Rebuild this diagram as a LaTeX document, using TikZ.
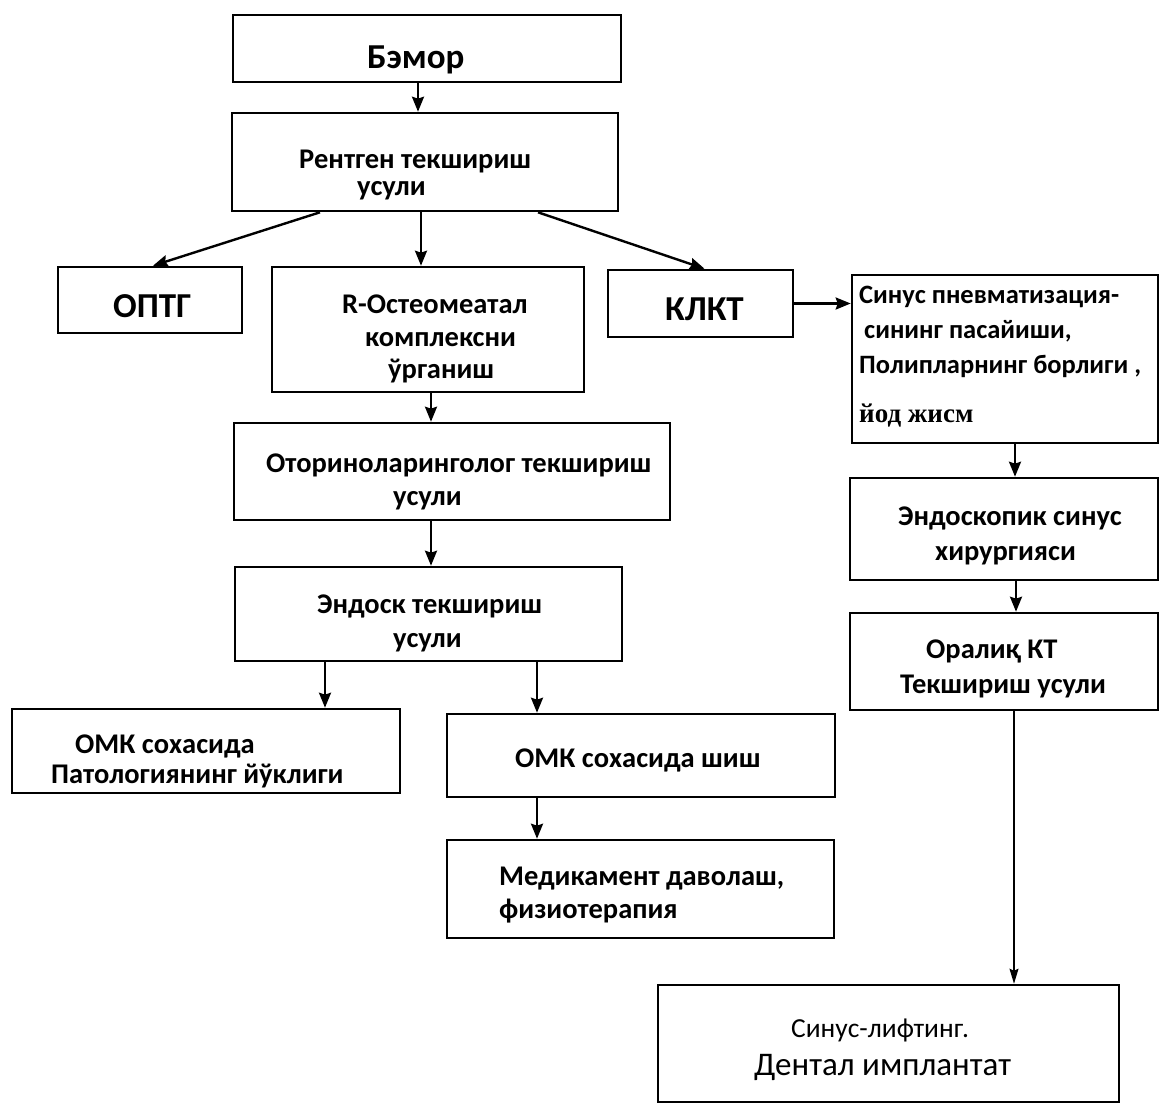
\documentclass[tikz,border=0pt]{standalone}
\usepackage{fontspec}
\setmainfont{Carlito}
\newfontfamily\serifbold{Liberation Serif}
\usetikzlibrary{arrows.meta}
\tikzset{
  box/.style={draw=black, line width=2.6pt, inner sep=0pt, rectangle},
  txt/.style={anchor=base west, inner sep=0pt, font=\bfseries\fontsize{28.5}{32}\selectfont},
  sintxt/.style={anchor=base west, inner sep=0pt, font=\bfseries\fontsize{26.5}{30}\selectfont},
  bigtxt/.style={anchor=base west, inner sep=0pt, font=\bfseries\fontsize{35}{40}\selectfont},
  arr/.style={line width=2.4pt, -{Stealth[length=15pt, width=12pt, inset=2pt]}},
  thinarr/.style={line width=1.2pt, -{Stealth[length=15pt, width=9pt, inset=2pt]}}
}
\begin{document}
\begin{tikzpicture}[x=1pt, y=-1pt]
\useasboundingbox[fill=white] (0,0) rectangle (1160,1106);
% boxes
\node[box, minimum width=388, minimum height=67] (bemor) at (427,48.5) {};
\node[box, minimum width=386, minimum height=98] (rentgen) at (425,162) {};
\node[box, minimum width=184, minimum height=66] (optg) at (150,300) {};
\node[box, minimum width=312, minimum height=125] (osteo) at (428,329.5) {};
\node[box, minimum width=185, minimum height=67] (klkt) at (700.5,303.5) {};
\node[box, minimum width=306, minimum height=168] (sinus) at (1005,359) {};
\node[box, minimum width=308, minimum height=102] (endoskopik) at (1004,529) {};
\node[box, minimum width=308, minimum height=97] (oraliq) at (1004,661.5) {};
\node[box, minimum width=461, minimum height=117] (lift) at (888.5,1043.5) {};
\node[box, minimum width=436, minimum height=97] (otori) at (452,471.5) {};
\node[box, minimum width=387, minimum height=94] (endosk) at (428.5,614) {};
\node[box, minimum width=388, minimum height=84] (omka) at (206,751) {};
\node[box, minimum width=388, minimum height=83] (omkb) at (641,755.5) {};
\node[box, minimum width=387, minimum height=98] (medic) at (640.5,889) {};
% texts
\node[bigtxt] (t-bemor) at (367,68) {Бэмор};
\node[txt] (t-rent1) at (299,168) {Рентген текшириш};
\node[txt] (t-rent2) at (357,195) {усули};
\node[bigtxt] (t-optg) at (113,317) {ОПТГ};
\node[txt] (t-ost1) at (342,313) {R-Остеомеатал};
\node[txt] (t-ost2) at (365,346) {комплексни};
\node[txt] (t-ost3) at (388,378) {ўрганиш};
\node[bigtxt] (t-klkt) at (665,320) {КЛКТ};
\node[sintxt] (t-sin1) at (859,303) {Синус пневматизация-};
\node[sintxt] (t-sin2) at (864,338) {сининг пасайиши,};
\node[sintxt] (t-sin3) at (859,373) {Полипларнинг борлиги ,};
\node[anchor=base west, inner sep=0pt, font=\serifbold\bfseries\fontsize{27}{30}\selectfont] (t-sin4) at (859,422) {йод жисм};
\node[txt] (t-endc1) at (898,525) {Эндоскопик синус};
\node[txt] (t-endc2) at (935,560) {хирургияси};
\node[txt] (t-or1) at (926,658) {Оралиқ КТ};
\node[txt] (t-or2) at (900,693) {Текшириш усули};
\node[anchor=base west, inner sep=0pt, font=\fontsize{27.5}{30}\selectfont] (t-lift1) at (791,1037) {Синус-лифтинг.};
\node[anchor=base west, inner sep=0pt, font=\fontsize{33}{36}\selectfont] (t-lift2) at (754,1075) {Дентал имплантат};
\node[txt] (t-oto1) at (266,472) {Оториноларинголог текшириш};
\node[txt] (t-oto2) at (393,505) {усули};
\node[txt] (t-ens1) at (317,613) {Эндоск текшириш};
\node[txt] (t-ens2) at (393,647) {усули};
\node[txt] (t-omka1) at (75,753) {ОМК сохасида};
\node[txt] (t-omka2) at (51,783) {Патологиянинг йўклиги};
\node[txt] (t-omkb) at (515,767) {ОМК сохасида шиш};
\node[txt] (t-med1) at (499,885) {Медикамент даволаш,};
\node[txt] (t-med2) at (499,918) {физиотерапия};
% connectors
\draw[arr] ([xshift=-9pt]bemor.south) -- ([xshift=-7pt]rentgen.north);
\draw[arr] ([xshift=-105pt]rentgen.south) -- ([xshift=3pt]optg.north);
\draw[arr] ([xshift=-4pt]rentgen.south) -- ([xshift=-7pt]osteo.north);
\draw[arr] ([xshift=113pt]rentgen.south) -- ([xshift=4pt]klkt.north);
\draw[arr] ([xshift=3pt]osteo.south) -- ([xshift=-21pt]otori.north);
\draw[arr] (klkt.east) -- (klkt.east -| sinus.west);
\draw[arr] ([xshift=10pt]sinus.south) -- ([xshift=11pt]endoskopik.north);
\draw[arr] ([xshift=12pt]endoskopik.south) -- ([xshift=12pt]oraliq.north);
\draw[thinarr] ([xshift=10pt]oraliq.south) -- ([xshift=125.5pt]lift.north);
\draw[arr] ([xshift=-21pt]otori.south) -- ([xshift=2.5pt]endosk.north);
\draw[arr] ([xshift=-103.5pt]endosk.south) -- ([xshift=119pt]omka.north);
\draw[arr] ([xshift=108.5pt]endosk.south) -- ([xshift=-104pt]omkb.north);
\draw[arr] ([xshift=-104pt]omkb.south) -- ([xshift=-103.5pt]medic.north);
\end{tikzpicture}
\end{document}
